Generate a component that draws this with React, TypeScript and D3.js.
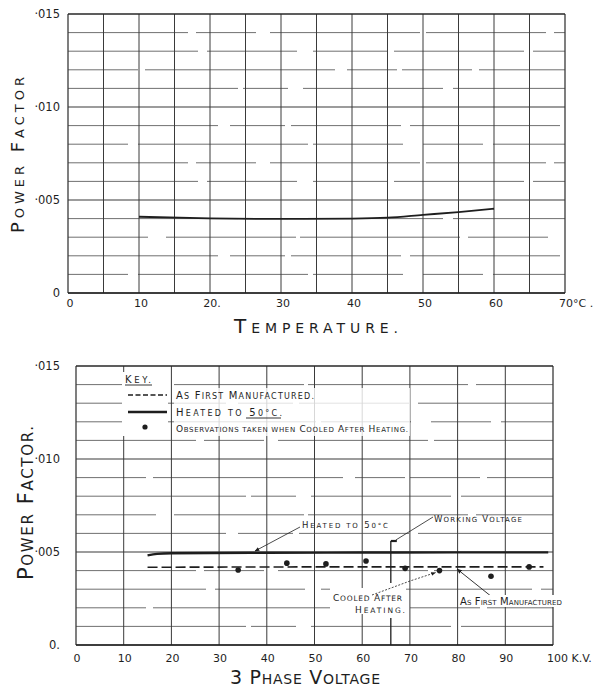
import React from "react";
import * as d3 from "d3";

// ---------- Data ----------
// Top chart: Power factor vs temperature
const tempC = [10, 20, 30, 40, 45, 50, 55, 60];
const tempPF = [0.0041, 0.00401, 0.00398, 0.004, 0.00405, 0.0042, 0.00435, 0.00453];
const tempTicks = [0, 10, 20, 30, 40, 50, 60];
const tempTickLabels = ["0", "10", "20.", "30", "40", "50", "60"];

// Bottom chart: power factor vs 3-phase voltage
const heatedKV = [15, 17, 20, 40, 60, 80, 99];
const heatedPF = [0.00482, 0.0049, 0.00493, 0.00496, 0.00497, 0.00498, 0.00498];
const manufKV = [15, 50, 98];
const manufPF = [0.00418, 0.0042, 0.0042];
const cooledKV = [34, 44.2, 52.4, 60.8, 69, 76.2, 87, 95];
const cooledPF = [0.00403, 0.0044, 0.00436, 0.00452, 0.00412, 0.004, 0.0037, 0.0042];
const workingVoltage = 66;
const kvTicks = [0, 10, 20, 30, 40, 50, 60, 70, 80, 90];
const pfTicks = [0.015, 0.01, 0.005, 0];
const pfTickLabels = ["·015", "·010", "·005", "0"];

const ink = "#1e1e1e";
const grid = "#3a3a3a";
const font = "'DejaVu Sans', sans-serif";

const dashPatterns = [
  "120 8 60 14 150 6",
  "60 10 170 5 90 20",
  "150 12 55 6 110 9",
  "80 18 130 4 160 8",
  "170 5 45 15 140 10",
  "70 7 190 12 50 5",
  "130 9 90 16 75 6",
];

// Hand-lettered caps: first letter of each capitalised word larger
function Caps(props: {
  x?: number;
  y?: number;
  transform?: string;
  text: string;
  big: number;
  small: number;
  len?: number;
}) {
  const words = props.text.split(" ");
  return (
    <text
      x={props.x}
      y={props.y}
      transform={props.transform}
      fontFamily={font}
      fill={ink}
      textLength={props.len}
      lengthAdjust={props.len ? "spacing" : undefined}
    >
      {words.map((w, i) => {
        const first = w[0];
        const isCap = first === first.toUpperCase();
        return (
          <React.Fragment key={i}>
            <tspan fontSize={isCap ? props.big : props.small}>
              {(i > 0 ? " " : "") + first.toUpperCase()}
            </tspan>
            <tspan fontSize={props.small}>{w.slice(1).toUpperCase()}</tspan>
          </React.Fragment>
        );
      })}
    </text>
  );
}

export default function App() {
  // ---------- Top scales ----------
  const xT = d3.scaleLinear().domain([0, 70]).range([68, 565]);
  const yT = d3.scaleLinear().domain([0, 0.015]).range([293, 14]);
  // ---------- Bottom scales ----------
  const xB = d3.scaleLinear().domain([0, 100]).range([76, 553]);
  const yB = d3.scaleLinear().domain([0, 0.015]).range([645, 366]);

  const hLevels = d3.range(0, 16).map((i) => i * 0.001);

  const tempLine = d3
    .line<number>()
    .x((_, i) => xT(tempC[i]))
    .y((d) => yT(d))
    .curve(d3.curveMonotoneX)(tempPF) as string;

  const heatedLine = d3
    .line<number>()
    .x((_, i) => xB(heatedKV[i]))
    .y((d) => yB(d))
    .curve(d3.curveMonotoneX)(heatedPF) as string;

  const manufLine = d3
    .line<number>()
    .x((_, i) => xB(manufKV[i]))
    .y((d) => yB(d))(manufPF) as string;

  const txt = (extra: any = {}) => ({
    fontFamily: font,
    fill: ink,
    ...extra,
  });

  const wvX = xB(workingVoltage);

  return (
    <svg
      width={600}
      height={688}
      style={{ position: "absolute", left: 0, top: 0, background: "#fff" }}
    >
      <defs>
        <marker id="arr" viewBox="0 0 10 10" refX="9" refY="5" markerWidth="6" markerHeight="6" orient="auto">
          <path d="M0,1 L10,5 L0,9 z" fill={ink} />
        </marker>
      </defs>
      <rect x={0} y={0} width={600} height={688} fill="#fff" />

      {/* ================= TOP CHART ================= */}
      <g>
        {hLevels.map((v, i) => {
          const major = i % 5 === 0;
          return (
            <line
              key={"th" + i}
              x1={xT(0)}
              x2={xT(70)}
              y1={yT(v)}
              y2={yT(v)}
              stroke={grid}
              strokeWidth={major ? 1.2 : 0.9}
              strokeDasharray={major ? undefined : dashPatterns[i % dashPatterns.length]}
              opacity={major ? 1 : 0.8}
            />
          );
        })}
        {d3.range(0, 75, 5).map((v, i) => (
          <line
            key={"tv" + i}
            x1={xT(v)}
            x2={xT(v)}
            y1={yT(0.015)}
            y2={yT(0)}
            stroke={grid}
            strokeWidth={v === 0 || v === 70 ? 1.3 : 1}
          />
        ))}
        <line x1={xT(0)} x2={xT(70)} y1={yT(0)} y2={yT(0)} stroke={ink} strokeWidth={1.4} />
        <line x1={xT(0)} x2={xT(70)} y1={yT(0.015)} y2={yT(0.015)} stroke={ink} strokeWidth={1.2} />

        <path d={tempLine} fill="none" stroke={ink} strokeWidth={1.8} />

        {pfTicks.map((v, i) => (
          <text
            key={"tyl" + i}
            x={xT(0) - 8}
            y={yT(v) + 4}
            textAnchor="end"
            {...txt({ fontSize: 11.5 })}
          >
            {pfTickLabels[i]}
          </text>
        ))}
        {tempTicks.map((v, i) => (
          <text key={"txl" + i} x={xT(v) + 2} y={307} textAnchor="middle" {...txt({ fontSize: 11 })}>
            {tempTickLabels[i]}
          </text>
        ))}
        <text x={xT(70) - 6} y={307} {...txt({ fontSize: 11 })}>
          70°C .
        </text>
        <Caps x={234} y={333} text="Temperature." big={20} small={14} len={164} />
        <Caps transform="translate(24,233) rotate(-90)" text="Power Factor" big={18} small={13} len={156} />
      </g>

      {/* ================= BOTTOM CHART ================= */}
      <g>
        {hLevels.map((v, i) => {
          const major = i % 5 === 0;
          return (
            <line
              key={"bh" + i}
              x1={xB(0)}
              x2={xB(100)}
              y1={yB(v)}
              y2={yB(v)}
              stroke={grid}
              strokeWidth={major ? 1.2 : 0.9}
              strokeDasharray={major ? undefined : dashPatterns[(i + 3) % dashPatterns.length]}
              opacity={major ? 1 : 0.8}
            />
          );
        })}
        {d3.range(0, 110, 10).map((v, i) => (
          <line
            key={"bv" + i}
            x1={xB(v)}
            x2={xB(v)}
            y1={yB(0.015)}
            y2={yB(0)}
            stroke={grid}
            strokeWidth={v === 0 || v === 100 ? 1.3 : 1}
          />
        ))}
        <line x1={xB(0)} x2={xB(100)} y1={yB(0)} y2={yB(0)} stroke={ink} strokeWidth={1.4} />
        <line x1={xB(0)} x2={xB(100)} y1={yB(0.015)} y2={yB(0.015)} stroke={ink} strokeWidth={1.2} />

        {/* Legend */}
        <rect x={122} y={372} width={46} height={64} fill="#fff" />
        <rect x={174} y={388} width={236} height={48} fill="#fff" opacity={0.8} />
        <Caps x={125} y={383} text="Key." big={10} small={8.5} len={26} />
        <line x1={125} x2={152} y1={385} y2={385} stroke={ink} strokeWidth={0.9} />
        <line x1={128} x2={167} y1={395} y2={395} stroke={ink} strokeWidth={1.6} strokeDasharray="5 2.5" />
        <line x1={128} x2={167} y1={412} y2={412} stroke={ink} strokeWidth={2.6} />
        <circle cx={145} cy={427} r={2.6} fill={ink} />
        <Caps x={176} y={399} text="As First Manufactured." big={10} small={8} len={138} />
        <Caps x={176} y={416} text="Heated to 50°C." big={10} small={8} len={106} />
        <line x1={246} x2={281} y1={418} y2={418} stroke={ink} strokeWidth={0.9} />
        <Caps x={176} y={432} text="Observations taken when Cooled After Heating." big={9} small={7} len={232} />

        {/* Data lines */}
        <path d={heatedLine} fill="none" stroke={ink} strokeWidth={2.4} />
        <path d={manufLine} fill="none" stroke={ink} strokeWidth={1.6} strokeDasharray="10 4" />
        {cooledPF.map((v, i) => (
          <circle key={"c" + i} cx={xB(cooledKV[i])} cy={yB(v)} r={2.8} fill={ink} />
        ))}

        {/* Working voltage marker */}
        <line x1={wvX} x2={wvX} y1={541} y2={583} stroke={ink} strokeWidth={1.3} />
        <line x1={wvX} x2={wvX} y1={618} y2={yB(0)} stroke={ink} strokeWidth={1.3} />
        <line x1={wvX} x2={wvX + 6} y1={541} y2={541} stroke={ink} strokeWidth={2.2} />
        <line x1={wvX + 5} x2={433} y1={540} y2={517} stroke={ink} strokeWidth={0.8} />
        <Caps x={434} y={522} text="Working Voltage" big={8.5} small={7} len={88} />

        {/* Heated to 50°C annotation */}
        <line x1={300} x2={255} y1={527} y2={551} stroke={ink} strokeWidth={0.8} markerEnd="url(#arr)" />
        <Caps x={302} y={528} text="Heated to 50°C" big={8.5} small={7} len={86} />

        {/* Cooled after heating annotation */}
        <rect x={330} y={588} width={76} height={26} fill="#fff" />
        <polyline
          points={`372,595 410,581 ${xB(cooledKV[5]) - 4},${yB(cooledPF[5]) + 2}`}
          fill="none"
          stroke={ink}
          strokeWidth={0.8}
          strokeDasharray="2 1.5"
          markerEnd="url(#arr)"
        />
        <Caps x={333} y={601} text="Cooled After" big={9} small={7.5} len={69} />
        <Caps x={355} y={613} text="Heating." big={9} small={7.5} len={50} />

        {/* As first manufactured annotation */}
        <line x1={492} x2={457} y1={597} y2={569} stroke={ink} strokeWidth={0.9} markerEnd="url(#arr)" />
        <rect x={459} y={595} width={104} height={12} fill="#fff" />
        <Caps x={460} y={605} text="As First Manufactured" big={10} small={7} len={102} />

        {/* Axes text */}
        {pfTicks.map((v, i) => (
          <text
            key={"byl" + i}
            x={xB(0) - 16}
            y={yB(v) + 4}
            textAnchor="end"
            {...txt({ fontSize: 11.5 })}
          >
            {i === 3 ? "0." : pfTickLabels[i]}
          </text>
        ))}
        {kvTicks.map((v, i) => (
          <text key={"bxl" + i} x={xB(v) + 1} y={662} textAnchor="middle" {...txt({ fontSize: 11 })}>
            {v}
          </text>
        ))}
        <text x={xB(100) - 6} y={662} {...txt({ fontSize: 11 })}>
          100 K.V.
        </text>
        <Caps x={230} y={684} text="3 Phase Voltage" big={19} small={14} len={150} />
        <Caps transform="translate(33,580) rotate(-90)" text="Power Factor." big={21} small={15} len={154} />
      </g>
    </svg>
  );
}
